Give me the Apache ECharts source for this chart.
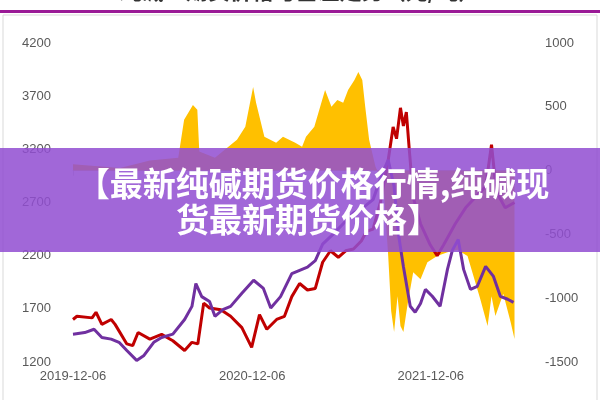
<!DOCTYPE html>
<html><head><meta charset="utf-8">
<script src="https://cdn.jsdelivr.net/npm/echarts@6/dist/echarts.min.js"></script>
<style>html,body{margin:0;padding:0;background:#fff}#c{width:600px;height:400px}</style>
</head><body><div id="c"></div>
<script>
const titleText = "纯碱：期货价格与基差走势（元/吨）";
const bannerLine1 = "【最新纯碱期货价格行情,纯碱现";
const bannerLine2 = "货最新期货价格】";
const xTickDates = ["2019-12-06", "2020-12-06", "2021-12-06"];
const leftTicks = [1200, 4200, 500];
const rightTicks = [-1500, 1000, 500];
const xRange = ["2019-12-06", "2022-05-27"];

const futures = [
["2019-12-06",1600],["2019-12-14",1630],["2020-01-14",1615],["2020-01-22",1668],["2020-02-03",1554],["2020-02-22",1600],
["2020-03-01",1554],["2020-03-25",1370],["2020-04-06",1354],["2020-04-17",1477],["2020-05-11",1415],["2020-06-04",1460],
["2020-06-27",1400],["2020-07-21",1308],["2020-08-05",1385],["2020-08-17",1370],["2020-08-29",1754],["2020-09-10",1708],
["2020-10-03",1692],["2020-10-23",1630],["2020-11-15",1523],["2020-12-05",1338],["2020-12-21",1646],["2021-01-05",1508],
["2021-01-25",1600],["2021-02-10",1630],["2021-02-25",1815],["2021-03-13",1938],["2021-03-29",1877],["2021-04-14",1892],
["2021-04-29",2138],["2021-05-15",2246],["2021-05-31",2185],["2021-06-15",2246],["2021-07-01",2262],["2021-07-17",2338],
["2021-07-28",2430],["2021-08-10",2450],["2021-08-25",2700],["2021-09-10",3100],["2021-09-20",3410],["2021-09-27",3300],
["2021-10-05",3590],["2021-10-11",3420],["2021-10-17",3550],["2021-10-23",3200],["2021-10-31",2750],["2021-11-15",2500],
["2021-12-05",2300],["2021-12-19",2200],["2022-01-01",2300],["2022-01-25",2500],["2022-02-15",2650],["2022-03-07",2750],
["2022-03-28",2850],["2022-04-09",3243],["2022-04-19",2800],["2022-05-07",2650],["2022-05-26",2700]
];
const spot = [
["2019-12-06",1462],["2019-12-30",1477],["2020-01-18",1508],["2020-02-03",1431],["2020-02-22",1415],["2020-03-09",1385],
["2020-03-25",1308],["2020-04-14",1215],["2020-04-29",1262],["2020-05-19",1385],["2020-06-04",1431],["2020-06-27",1462],
["2020-07-21",1600],["2020-08-05",1723],["2020-08-13",1938],["2020-08-25",1815],["2020-09-10",1769],["2020-09-21",1630],
["2020-10-07",1692],["2020-10-23",1723],["2020-11-15",1846],["2020-12-09",1969],["2020-12-29",1892],["2021-01-13",1708],
["2021-02-02",1815],["2021-02-25",2031],["2021-03-13",2062],["2021-03-29",2092],["2021-04-14",2154],["2021-04-29",2308],
["2021-05-20",2400],["2021-06-10",2500],["2021-07-01",2600],["2021-07-20",2650],["2021-08-10",2727],["2021-08-27",2950],
["2021-09-10",3100],["2021-09-22",2850],["2021-10-01",2400],["2021-10-11",2099],["2021-10-25",1724],["2021-11-04",1668],
["2021-11-15",1750],["2021-11-25",1883],["2021-12-09",1818],["2021-12-25",1724],["2022-01-09",2071],["2022-01-19",2250],
["2022-01-31",2352],["2022-02-11",2071],["2022-02-25",1883],["2022-03-11",1912],["2022-03-28",2099],["2022-04-13",2005],
["2022-04-27",1818],["2022-05-12",1790],["2022-05-24",1761]
];
const basis = [
["2019-12-06",50],["2020-03-11",20],["2020-05-11",80],["2020-07-08",100],["2020-07-20",398],["2020-08-07",515],
["2020-08-16",476],["2020-08-20",150],["2020-09-21",100],["2020-11-05",242],["2020-11-22",343],["2020-12-08",656],
["2020-12-14",531],["2020-12-31",265],["2021-01-24",218],["2021-02-07",265],["2021-03-04",218],["2021-03-18",187],
["2021-03-26",265],["2021-04-12",343],["2021-05-04",632],["2021-05-17",500],["2021-05-29",554],["2021-06-10",531],
["2021-06-20",632],["2021-07-03",711],["2021-07-11",773],["2021-07-19",711],["2021-07-25",500],["2021-08-02",242],
["2021-08-15",30],["2021-08-31",-100],["2021-09-10",-671],["2021-09-16",-1100],["2021-09-22",-1265],["2021-09-29",-984],
["2021-10-05",-1218],["2021-10-11",-1265],["2021-10-19",-1062],["2021-10-31",-796],["2021-11-15",-851],["2021-11-29",-718],
["2021-12-19",-670],["2022-01-09",-640],["2022-01-29",-620],["2022-02-19",-670],["2022-03-17",-1007],["2022-04-01",-1218],
["2022-04-09",-984],["2022-04-17",-1140],["2022-05-03",-965],["2022-05-18",-1187],["2022-05-26",-1320]
];

function ts(s){const p=s.split('-').map(Number);return Date.UTC(p[0],p[1]-1,p[2]);}
function fmt(v){const d=new Date(v);const p=n=>String(n).padStart(2,'0');return d.getUTCFullYear()+'-'+p(d.getUTCMonth()+1)+'-'+p(d.getUTCDate());}
const conv = arr => arr.map(d => [ts(d[0]), d[1]]);
const ticks = xTickDates.map(ts);
const lab = {color:'#595959',fontSize:13,fontFamily:'Liberation Sans',formatter:v=>String(v)};

const chart = echarts.init(document.getElementById('c'));
chart.setOption({
  animation:false,
  grid:{left:73,right:85,top:43,bottom:38},
  xAxis:{type:'value',min:ts(xRange[0]),max:ts(xRange[1]),
    axisLine:{lineStyle:{color:'#d0d0d0'}},
    axisTick:{show:true,customValues:ticks,length:5,lineStyle:{color:'#d0d0d0'}},
    axisLabel:{customValues:ticks,color:'#595959',fontSize:13,fontFamily:'Liberation Sans',formatter:fmt,margin:8},
    splitLine:{show:false}},
  yAxis:[
    {type:'value',min:leftTicks[0],max:leftTicks[1],interval:leftTicks[2],
     axisLine:{show:false},axisTick:{show:false},splitLine:{show:false},
     axisLabel:Object.assign({margin:22},lab)},
    {type:'value',min:rightTicks[0],max:rightTicks[1],interval:rightTicks[2],
     axisLine:{show:false},axisTick:{show:false},splitLine:{show:false},
     axisLabel:Object.assign({margin:30},lab)}
  ],
  series:[
    {type:'line',yAxisIndex:1,data:conv(basis),symbol:'none',z:1,
     lineStyle:{width:0},itemStyle:{color:'#ffc000'},areaStyle:{color:'#ffc000',opacity:1,origin:0}},
    {type:'line',data:conv(futures),symbol:'none',z:2,lineStyle:{width:3,color:'#c00000'},itemStyle:{color:'#c00000'}},
    {type:'line',data:conv(spot),symbol:'none',z:3,lineStyle:{width:3,color:'#7030a0'},itemStyle:{color:'#7030a0'}}
  ],
  graphic:[
    {type:'rect',shape:{x:3,y:15,width:594,height:390},style:{fill:'none',stroke:'#d9d9d9',lineWidth:1},z:0},
    {type:'rect',shape:{x:0,y:10,width:600,height:3},style:{fill:'#9a1a96'},z:10},
    {type:'text',x:300,y:-20,style:{text:titleText,fill:'#333',font:'bold 22px "Noto Sans CJK SC"',textAlign:'center'},z:10},
    {type:'rect',shape:{x:0,y:148,width:600,height:104},style:{fill:'rgba(145,78,210,0.86)'},z:100},
    {type:'text',x:313,y:183,style:{text:bannerLine1,fill:'#fff',font:'bold 33px "Noto Sans CJK SC"',textAlign:'center',textVerticalAlign:'middle'},z:101},
    {type:'text',x:308,y:219,style:{text:bannerLine2,fill:'#fff',font:'bold 33px "Noto Sans CJK SC"',textAlign:'center',textVerticalAlign:'middle'},z:101}
  ]
});
</script></body></html>
